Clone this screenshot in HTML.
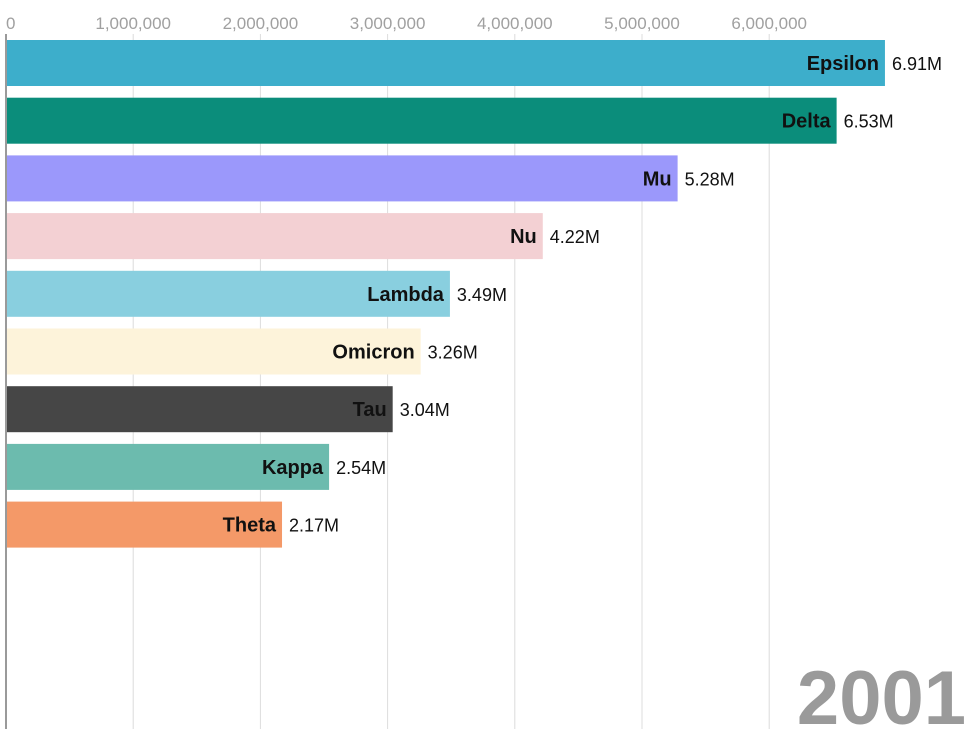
<!DOCTYPE html>
<html><head><meta charset="utf-8"><style>
body{margin:0;background:#fff;width:972px;height:729px;overflow:hidden}
svg{display:block;font-family:"Liberation Sans",sans-serif}
</style></head><body>
<svg id="chart" width="972" height="729" viewBox="0 0 972 729"></svg>
<script>
const categories=["Epsilon","Delta","Mu","Nu","Lambda","Omicron","Tau","Kappa","Theta"];
const values=[6.91,6.53,5.28,4.22,3.49,3.26,3.04,2.54,2.17];
const valueLabels=["6.91M","6.53M","5.28M","4.22M","3.49M","3.26M","3.04M","2.54M","2.17M"];
const colors=["#3daecb","#0b8d7b","#9b98fb","#f3d0d3","#89cfdf","#fdf3da","#464646","#6cbbae","#f49968"];
const ticks=[0,1,2,3,4,5,6];
const tickLabels=["0","1,000,000","2,000,000","3,000,000","4,000,000","5,000,000","6,000,000"];
const yearLabel="2001";
const NS="http://www.w3.org/2000/svg";
const svg=document.getElementById('chart');
const x0=6,pxPerM=127.2;
const xs=v=>x0+v*pxPerM;
const yTop=40,step=57.7,bh=46;
const ys=i=>yTop+i*step;
function mk(t,a){const e=document.createElementNS(NS,t);for(const k in a)e.setAttribute(k,a[k]);svg.appendChild(e);return e;}
ticks.forEach((t,i)=>{
 const g=mk('line',{x1:xs(t),x2:xs(t),y1:34,y2:729,stroke:'#dcdcdc','stroke-width':1});
 
 
 const l=mk('text',{x:xs(t),y:29,'text-anchor':i==0?'start':'middle','font-size':17,fill:'#a0a0a0'});
 l.textContent=tickLabels[i];
 
 
});
categories.forEach((c,i)=>{
 const y=ys(i),w=xs(values[i])-x0;
 const r=mk('rect',{x:x0,y:y,width:w,height:bh,fill:colors[i]});
 
 
 const n=mk('text',{x:x0+w-6,y:y+bh/2+7,'text-anchor':'end','font-size':20,'font-weight':'bold',fill:'#111'});
 n.textContent=c;
 
 
 const v=mk('text',{x:x0+w+7,y:y+bh/2+7,'font-size':18,fill:'#111'});
 v.textContent=valueLabels[i];
 
 
});
const ax=mk('line',{x1:x0,x2:x0,y1:34,y2:729,stroke:'#9a9a9a','stroke-width':2});


const yr=mk('text',{x:966,y:724,'text-anchor':'end','font-size':76,'font-weight':'bold',fill:'#9a9a9a'});
yr.textContent=yearLabel;


</script>
</body></html>
